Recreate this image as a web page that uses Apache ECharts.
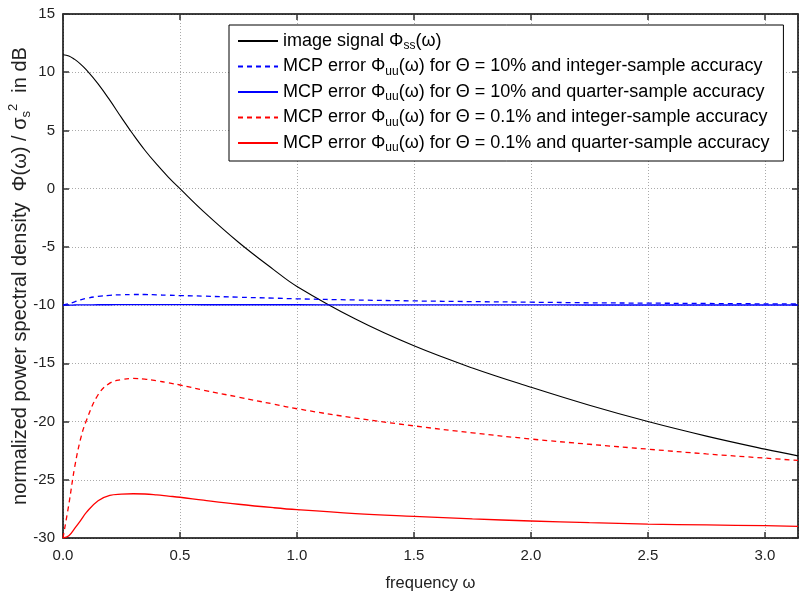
<!DOCTYPE html>
<html>
<head>
<meta charset="utf-8">
<script src="https://cdn.jsdelivr.net/npm/echarts@6/dist/echarts.min.js"></script>
<style>
  html, body { margin: 0; padding: 0; background: #fff; }
  #main { width: 799px; height: 591px; }
</style>
</head>
<body>
<div id="main"></div>
<script>
// frequency samples (denser near 0 where the curves bend)
var omega = [0, 0.025, 0.05, 0.075, 0.1, 0.15, 0.2, 0.25, 0.3, 0.35, 0.4, 0.45, 0.5, 0.6, 0.75, 0.9,
  1.0, 1.25, 1.5, 1.75, 2.0, 2.25, 2.5, 2.75, 3.0, Math.PI];

// values in dB
var imageSignal = [11.5, 11.4, 11.1, 10.7, 10.2, 9.0, 7.6, 6.1, 4.65, 3.3, 2.1, 1.0, 0, -1.95, -4.6, -6.95,
  -8.4, -11.2, -13.5, -15.4, -17.05, -18.6, -20.0, -21.25, -22.37, -22.95];
var err10Integer = [-10, -9.88, -9.72, -9.55, -9.42, -9.25, -9.16, -9.11, -9.09, -9.09, -9.12, -9.15, -9.18, -9.23, -9.32, -9.4,
  -9.46, -9.56, -9.64, -9.7, -9.75, -9.8, -9.83, -9.86, -9.89, -9.9];
var err10Quarter = [-10, -10, -9.99, -9.98, -9.98, -9.97, -9.97, -9.96, -9.96, -9.96, -9.96, -9.96, -9.96, -9.97, -9.97, -9.97,
  -9.97, -9.98, -9.98, -9.98, -9.98, -9.99, -9.99, -9.99, -9.99, -9.99];
var err01Integer = [-30, -27.1, -23.9, -21.5, -19.9, -17.7, -16.7, -16.4, -16.3, -16.35, -16.5, -16.67, -16.86, -17.3, -17.9, -18.5,
  -18.9, -19.7, -20.37, -20.97, -21.5, -21.95, -22.37, -22.78, -23.14, -23.34];
var err01Quarter = [-30, -29.8, -29.17, -28.5, -27.8, -26.8, -26.35, -26.24, -26.2, -26.22, -26.3, -26.4, -26.5, -26.75, -27.1, -27.4,
  -27.57, -27.9, -28.14, -28.36, -28.54, -28.68, -28.8, -28.88, -28.94, -29.0];

var xTicks = { min: 0, max: Math.PI, interval: 0.5 };
var yTicks = { min: -30, max: 15, interval: 5 };

var names = [
  'image signal Φss(ω)',
  'MCP error Φuu(ω) for Θ = 10% and integer-sample accuracy',
  'MCP error Φuu(ω) for Θ = 10% and quarter-sample accuracy',
  'MCP error Φuu(ω) for Θ = 0.1% and integer-sample accuracy',
  'MCP error Φuu(ω) for Θ = 0.1% and quarter-sample accuracy'
];
var richNames = {};
richNames[names[0]] = '{t|image signal Φ}{sub|ss}{t|(ω)}';
richNames[names[1]] = '{t|MCP error Φ}{sub|uu}{t|(ω) for Θ = 10% and integer-sample accuracy}';
richNames[names[2]] = '{t|MCP error Φ}{sub|uu}{t|(ω) for Θ = 10% and quarter-sample accuracy}';
richNames[names[3]] = '{t|MCP error Φ}{sub|uu}{t|(ω) for Θ = 0.1% and integer-sample accuracy}';
richNames[names[4]] = '{t|MCP error Φ}{sub|uu}{t|(ω) for Θ = 0.1% and quarter-sample accuracy}';

function pairs(ys) {
  return omega.map(function (x, i) { return [x, ys[i]]; });
}

function mkSeries(name, ys, color, dashed, width) {
  return {
    name: name,
    type: 'line',
    data: pairs(ys),
    showSymbol: false,
    symbol: 'none',
    smooth: 0.4,
    lineStyle: { color: color, width: width, type: dashed ? [5, 4] : 'solid' },
    itemStyle: { color: color },
    emphasis: { disabled: true },
    animation: false
  };
}

var font = "'Liberation Sans', Arial, sans-serif";
var chart = echarts.init(document.getElementById('main'), null, { renderer: 'canvas' });

var gridLine = { show: true, lineStyle: { color: '#aaa', type: [1, 2], width: 1 } };
var frameLine = { show: true, onZero: false, lineStyle: { color: '#000', width: 1.5 } };
var tick = { show: true, inside: true, length: 6, lineStyle: { color: '#333', width: 1.5 } };

chart.setOption({
  backgroundColor: '#fff',
  animation: false,
  textStyle: { fontFamily: font },
  grid: { left: 63, right: 1, top: 14, bottom: 53, outerBoundsMode: 'none' },
  legend: {
    data: names,
    orient: 'vertical',
    left: 229,
    top: 25,
    itemWidth: 40,
    itemHeight: 14,
    itemGap: 5.5,
    padding: [7, 14, 7, 8],
    backgroundColor: '#fff',
    borderColor: '#000',
    borderWidth: 1,
    borderRadius: 0,
    z: 10,
    itemStyle: { opacity: 0 },
    formatter: function (n) { return richNames[n]; },
    textStyle: {
      fontFamily: font,
      rich: {
        t: { fontSize: 18, lineHeight: 22, color: '#000', fontFamily: font },
        sub: { fontSize: 12, lineHeight: 13, verticalAlign: 'bottom', color: '#000', fontFamily: font }
      }
    }
  },
  xAxis: [{
    type: 'value',
    min: xTicks.min, max: xTicks.max, interval: xTicks.interval,
    axisLine: frameLine,
    axisTick: tick,
    splitLine: gridLine,
    axisLabel: {
      fontSize: 15, color: '#222', margin: 10, showMaxLabel: false, fontFamily: font,
      formatter: function (v) { return v.toFixed(1); }
    },
    name: 'frequency ω',
    nameLocation: 'middle',
    nameGap: 37,
    nameMoveOverlap: false,
    nameTextStyle: { fontSize: 16.5, color: '#222', fontFamily: font }
  }, {
    type: 'value', position: 'top',
    min: xTicks.min, max: xTicks.max, interval: xTicks.interval,
    axisLine: frameLine, axisTick: tick, splitLine: { show: false }, axisLabel: { show: false }
  }],
  yAxis: [{
    type: 'value',
    min: yTicks.min, max: yTicks.max, interval: yTicks.interval,
    axisLine: frameLine,
    axisTick: tick,
    splitLine: gridLine,
    axisLabel: { fontSize: 15, color: '#222', margin: 8, fontFamily: font },
    name: '{t|normalized power spectral density  Φ(ω) / σ}{sub|s}{sup|2}{t|  in dB}',
    nameLocation: 'middle',
    nameRotate: 90,
    nameGap: 30,
    nameMoveOverlap: false,
    nameTextStyle: {
      color: '#222',
      rich: {
        t: { fontSize: 20, lineHeight: 26, color: '#222', fontFamily: font },
        sub: { fontSize: 13, lineHeight: 14, verticalAlign: 'bottom', color: '#222', fontFamily: font },
        sup: { fontSize: 13, lineHeight: 14, verticalAlign: 'top', color: '#222', fontFamily: font }
      }
    }
  }, {
    type: 'value', position: 'right',
    min: yTicks.min, max: yTicks.max, interval: yTicks.interval,
    axisLine: frameLine, axisTick: tick, splitLine: { show: false }, axisLabel: { show: false }
  }],
  series: [
    mkSeries(names[0], imageSignal, '#000000', false, 1.1),
    mkSeries(names[1], err10Integer, '#0000ff', true, 1.3),
    mkSeries(names[2], err10Quarter, '#0000ff', false, 1.3),
    mkSeries(names[3], err01Integer, '#ff0000', true, 1.3),
    mkSeries(names[4], err01Quarter, '#ff0000', false, 1.3)
  ]
});
</script>
</body>
</html>
